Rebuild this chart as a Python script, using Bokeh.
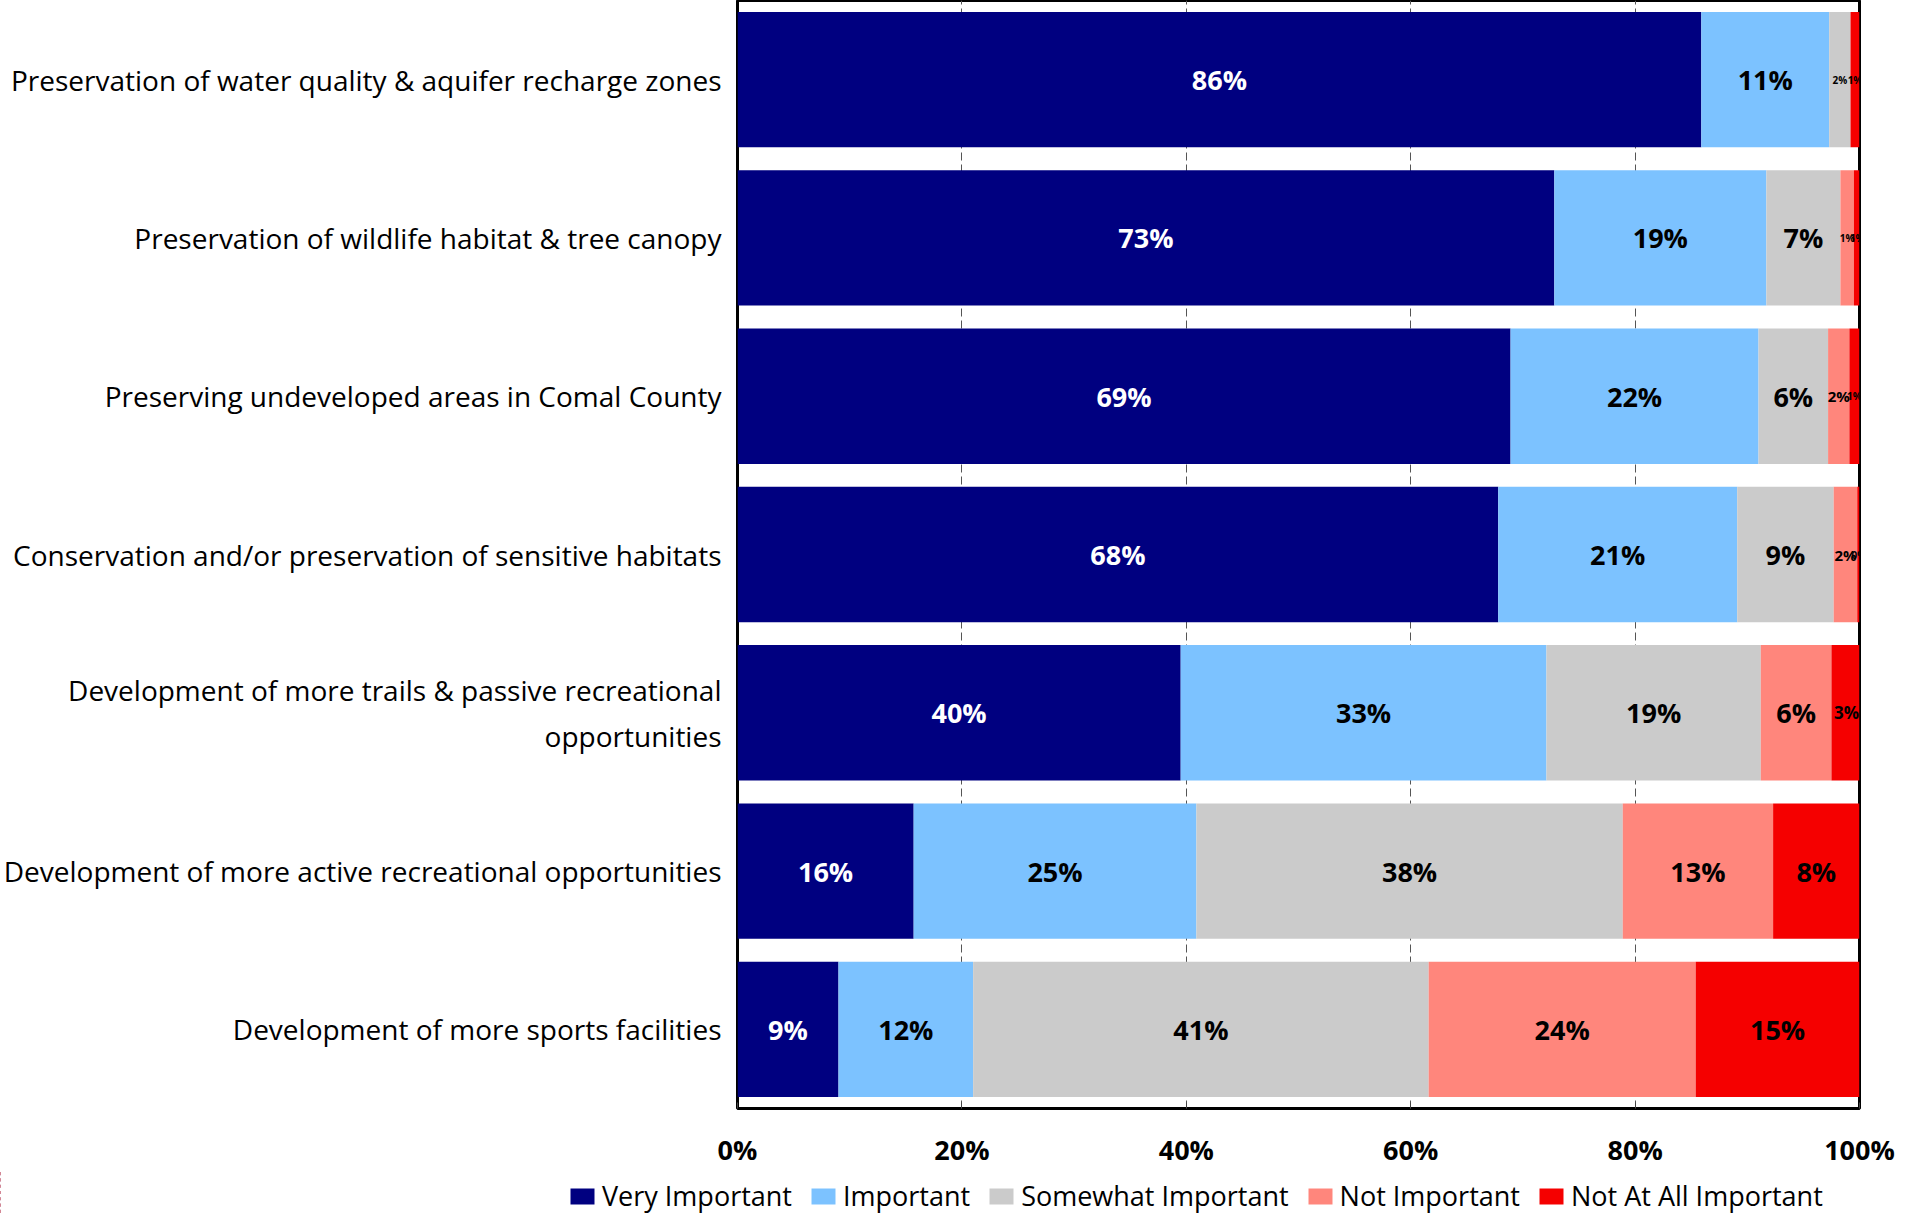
from bokeh.plotting import figure
from bokeh.models import (FactorRange, Range1d, ColumnDataSource, Legend, LegendItem,
                          FixedTicker)
from bokeh.core.properties import value
from bokeh.embed import file_html
from bokeh.resources import INLINE

categories = [
    "Preservation of water quality & aquifer recharge zones",
    "Preservation of wildlife habitat & tree canopy",
    "Preserving undeveloped areas in Comal County",
    "Conservation and/or preservation of sensitive habitats",
    "Development of more trails & passive recreational\nopportunities",
    "Development of more active recreational opportunities",
    "Development of more sports facilities",
]
series = ["Very Important", "Important", "Somewhat Important", "Not Important", "Not At All Important"]
very_important = [85.9, 72.8, 68.9, 67.8, 39.5, 15.7, 9.0]
important = [11.4, 18.9, 22.1, 21.3, 32.6, 25.2, 12.0]
somewhat_important = [1.9, 6.6, 6.2, 8.6, 19.1, 38.0, 40.6]
not_important = [0.0, 1.2, 1.9, 2.1, 6.3, 13.4, 23.8]
not_at_all_important = [0.8, 0.6, 0.9, 0.3, 2.7, 7.7, 14.6]
x_ticks = [0, 20, 40, 60, 80, 100]
x_tick_labels = ["0%", "20%", "40%", "60%", "80%", "100%"]

colors = ["#000080", "#7CC2FF", "#CBCBCB", "#FF867C", "#F50000"]
label_colors = ["white", "black", "black", "black", "black"]
FONT = "Open Sans"

values = [very_important, important, somewhat_important, not_important, not_at_all_important]
data = {"cat": categories}
for s, v in zip(series, values):
    data[s] = v
source = ColumnDataSource(data)

p = figure(width=1900, height=1170, output_backend="svg", toolbar_location=None,
           y_range=FactorRange(*categories[::-1]), x_range=Range1d(0, 100),
           min_border_left=726, min_border_right=41, min_border_top=0, min_border_bottom=62)

p.hbar_stack(series, y="cat", height=0.855, source=source, color=colors, line_width=0)

# segment labels
lx, ly, lt, lc, ls = [], [], [], [], []
for i, cat in enumerate(categories):
    left = 0.0
    for j, v in enumerate(values):
        w = v[i]
        if w > 0.05:
            lx.append(left + w / 2)
            ly.append(cat)
            lt.append(f"{round(w):.0f}%")
            lc.append(label_colors[j])
            if w >= 4:
                ls.append("27px")
            elif w >= 2.5:
                ls.append("17px")
            elif w >= 1.8 and i in (2, 3):
                ls.append("15px")
            else:
                ls.append("10px")
        left += w
lsrc = ColumnDataSource(dict(x=lx, y=ly, t=lt, c=lc, s=ls))
p.text(x="x", y="y", text="t", source=lsrc, text_color="c", text_font_size="s",
       text_align="center", text_baseline="middle", text_font=value(FONT), text_font_style="bold")

# axes
p.xaxis.ticker = FixedTicker(ticks=x_ticks)
p.xaxis.major_label_overrides = {t: l for t, l in zip(x_ticks, x_tick_labels)}
p.xaxis.major_label_text_font = FONT
p.xaxis.major_label_text_font_style = "bold"
p.xaxis.major_label_text_font_size = "27px"
p.xaxis.major_label_text_color = "black"
p.xaxis.major_label_standoff = 22
p.xaxis.major_tick_in = 6
p.xaxis.major_tick_out = 0
p.xaxis.major_tick_line_color = "#444444"
p.xaxis.axis_line_color = None
p.xaxis.minor_tick_line_color = None

p.yaxis.major_label_text_font = FONT
p.yaxis.major_label_text_font_size = "28px"
p.yaxis.major_label_text_color = "black"
p.yaxis.major_label_standoff = 10
p.yaxis.axis_line_color = None
p.yaxis.major_tick_line_color = None
p.yaxis.minor_tick_line_color = None

p.ygrid.grid_line_color = None
p.xgrid.grid_line_color = "#555555"
p.xgrid.grid_line_dash = "8 4"
p.xgrid.grid_line_width = 1

p.outline_line_color = "black"
p.outline_line_width = 3
p.outline_line_alpha = 1

p.y_range.range_padding = 0
p.y_range.group_padding = 0

# legend strip below the chart (its bars sit outside its visible x range)
lf = figure(width=1900, height=44, output_backend="svg", toolbar_location=None,
            x_range=Range1d(1000, 1001), y_range=FactorRange(*categories),
            min_border_left=0, min_border_right=0, min_border_top=0, min_border_bottom=0)
lf.axis.visible = False
lf.grid.grid_line_color = None
lf.outline_line_color = None
lrs = lf.hbar_stack(series, y="cat", height=0.5, source=source, color=colors, line_width=0)
items = [LegendItem(label=s, renderers=[r]) for s, r in zip(series, lrs)]
legend = Legend(items=items, orientation="horizontal", location=(567, 0),
                label_text_font=FONT, label_text_font_size="27px", label_text_color="black",
                glyph_width=30, glyph_height=20, label_standoff=5, spacing=16,
                padding=0, margin=0, border_line_color=None, background_fill_alpha=0)
lf.add_layout(legend)

open("out.html", "w").write(file_html([p, lf], INLINE))
